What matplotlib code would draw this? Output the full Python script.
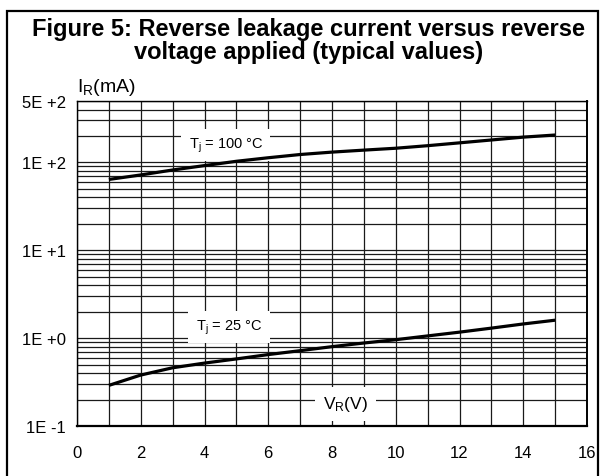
import numpy as np
import matplotlib.pyplot as plt
from matplotlib.ticker import FixedLocator, LogLocator, NullFormatter, MultipleLocator
from matplotlib.patches import Rectangle

plt.rcParams['font.family'] = ['Liberation Sans', 'DejaVu Sans']
plt.rcParams['mathtext.fontset'] = 'custom'
plt.rcParams['mathtext.rm'] = 'Liberation Sans'
plt.rcParams['mathtext.it'] = 'Liberation Sans'

# reverse voltage (V)
vr = [1, 2, 3, 4, 5, 6, 7, 8, 9, 10, 11, 12, 13, 14, 15]
# leakage current (mA)
ir_100 = [64, 72, 82, 92, 103, 113, 123, 131, 138, 145, 155, 167, 180, 194, 205]
ir_25 = [0.29, 0.38, 0.46, 0.52, 0.58, 0.65, 0.72, 0.80, 0.88, 0.96, 1.06, 1.17, 1.30, 1.45, 1.60]

ytick_vals = [0.1, 1, 10, 100, 500]
ytick_labels = ['1E -1', '1E +0', '1E +1', '1E +2', '5E +2']
xtick_vals = [0, 2, 4, 6, 8, 10, 12, 14, 16]

fig = plt.figure(figsize=(6.01, 4.77), dpi=100)
ax = fig.add_axes([77/601, 1-427/477, 510/601, 325/477])

ax.set_yscale('log')
ax.set_xlim(0, 16)
ax.set_ylim(0.1, 500)

ax.yaxis.set_major_locator(FixedLocator(ytick_vals))
ax.set_yticklabels(ytick_labels)
ax.yaxis.set_minor_locator(LogLocator(base=10, subs=np.arange(2, 10)))
ax.yaxis.set_minor_formatter(NullFormatter())
ax.set_xticks(xtick_vals)
ax.xaxis.set_minor_locator(MultipleLocator(1))

ax.grid(True, which='both', color='#1a1a1a', lw=0.9, zorder=1)
ax.set_axisbelow(True)
ax.tick_params(which='both', length=0)
ax.tick_params(axis='x', pad=14, labelsize=12)
ax.tick_params(axis='y', pad=8, labelsize=12)
for s in ax.spines.values():
    s.set_linewidth(1.0)
ax.spines['bottom'].set_linewidth(1.6)
ax.spines['right'].set_linewidth(1.4)

ax.plot(vr, ir_100, color='black', lw=2.3, zorder=5, solid_capstyle='butt')
ax.plot(vr, ir_25, color='black', lw=2.3, zorder=5, solid_capstyle='butt')

box = dict(facecolor='white', edgecolor='none', boxstyle='square,pad=0.5')
ax.text(4.67, 158, r'T$_\mathregular{j}$ = 100 °C', fontsize=10.5, ha='center', va='center',
        bbox=box, zorder=4)
ax.text(4.77, 1.34, r'T$_\mathregular{j}$ = 25 °C', fontsize=10.5, ha='center', va='center',
        bbox=box, zorder=4)
ax.text(8.42, 0.178, r'V$_\mathregular{R}$(V)', fontsize=12.5, ha='center', va='center',
        bbox=dict(facecolor='white', edgecolor='none', boxstyle='square,pad=0.45'), zorder=4)
ax.text(0.0, 1.045, r'I$_\mathregular{R}$(mA)', fontsize=14, ha='left', va='center',
        transform=ax.transAxes)

fig.text(0.513, 1-41/477, 'Figure 5: Reverse leakage current versus reverse\nvoltage applied (typical values)',
         ha='center', va='center', fontsize=17, fontweight='bold', linespacing=1.0)

fig.patches.append(Rectangle((7/601, -0.1), 591/601, 1.1-12/477, transform=fig.transFigure,
                             fill=False, edgecolor='black', lw=1.6, clip_on=False))

fig.savefig('out.png', dpi=100)
